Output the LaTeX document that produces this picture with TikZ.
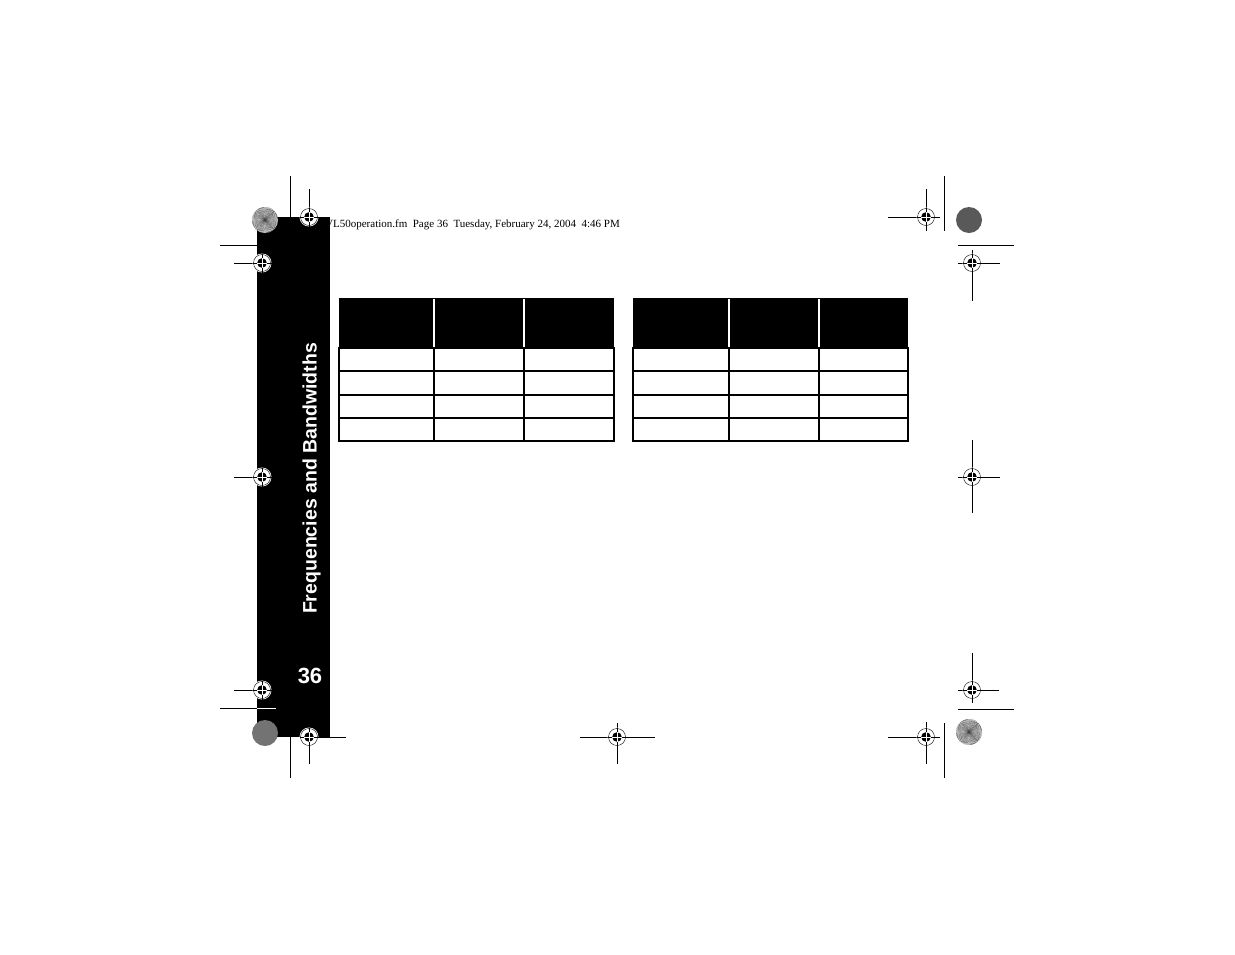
\documentclass[tikz,border=0pt]{standalone}
\usepackage{fontspec}
\setmainfont{Liberation Serif}
\setsansfont{Liberation Sans}

% registration mark: centre x, centre y
\newcommand{\regmark}[2]{%
	\fill[white] (#1,#2) circle (9.5pt);
	\draw[line width=0.4] (#1,#2) circle (8.5pt);
	\draw[line width=0.9] (#1-9.5,#2) -- (#1+9.5,#2) (#1,#2-9.5) -- (#1,#2+9.5);
	\fill (#1,#2) circle (4.8pt);
	\draw[white,line width=0.5] (#1-4.8,#2) -- (#1+4.8,#2) (#1,#2-4.8) -- (#1,#2+4.8);
}
% star target: centre x, centre y
\newcommand{\startarget}[2]{%
	\fill[white] (#1,#2) circle (13pt);
	\foreach \a in {0,5,...,355} \fill[black!75] (#1,#2) -- ++(\a:13pt) arc (\a:\a+2:13pt) -- cycle;
}

\begin{document}
\begin{tikzpicture}[x=1pt,y=-1pt]
					\useasboundingbox (0,0) rectangle (1235,954);
					\fill[white] (0,0) rectangle (1235,954);
					
					\node[anchor=base west,inner sep=0,font=\fontsize{11}{13}\selectfont] (header) at (325,227.5) {VL50operation.fm\ \ Page 36\ \ Tuesday, February 24, 2004\ \ 4:46 PM};
					
					\fill (257,217) rectangle (330,737);
					\node[rotate=90,text=white,font=\sffamily\bfseries\fontsize{19.5}{22}\selectfont] (sidetitle) at (311.5,478.5) {Frequencies and Bandwidths};
					\node[text=white,font=\sffamily\bfseries\fontsize{22}{24}\selectfont] (pagenum) at (310,676) {36};
					
					\fill (339,298) rectangle (614,348);
					\draw[white,line width=1.5] (434,299) -- (434,347);
					\draw[white,line width=1.5] (524,299) -- (524,347);
					\draw[line width=1.5] (339,348) rectangle (614,441);
					\draw[line width=1.5] (339,371) -- (614,371);
					\draw[line width=1.5] (339,395) -- (614,395);
					\draw[line width=1.5] (339,418) -- (614,418);
					\draw[line width=1.5] (434,348) -- (434,441);
					\draw[line width=1.5] (524,348) -- (524,441);
					
					\fill (633,298) rectangle (908,348);
					\draw[white,line width=1.5] (729,299) -- (729,347);
					\draw[white,line width=1.5] (819,299) -- (819,347);
					\draw[line width=1.5] (633,348) rectangle (908,441);
					\draw[line width=1.5] (633,371) -- (908,371);
					\draw[line width=1.5] (633,395) -- (908,395);
					\draw[line width=1.5] (633,418) -- (908,418);
					\draw[line width=1.5] (729,348) -- (729,441);
					\draw[line width=1.5] (819,348) -- (819,441);
					
					\draw[line width=0.9] (290,176) -- (290,217);
					\draw[line width=0.9] (220,245) -- (257,245);
					\draw[line width=0.9] (220,708) -- (257,708);
					\draw[white,line width=0.9] (257,708) -- (276,708);
					\draw[line width=0.9] (290,737) -- (290,778);
					\draw[line width=0.9] (944,176) -- (944,231);
					\draw[line width=0.9] (958,245) -- (1014,245);
					\draw[line width=0.9] (958,709) -- (1014,709);
					\draw[line width=0.9] (944,723) -- (944,778);
					
					\draw[line width=0.9] (309,189) -- (309,217);
					\draw[line width=0.9] (234,263) -- (262,263);
					\draw[line width=0.9] (234,477) -- (262,477);
					\draw[line width=0.9] (234,690) -- (262,690);
					\draw[line width=0.9] (309,737) -- (346,737) (309,737) -- (309,764);
					\draw[line width=0.9] (580,737) -- (655,737) (617,723) -- (617,764);
					\draw[line width=0.9] (888,737) -- (940,737) (926,722) -- (926,764);
					\draw[line width=0.9] (958,690) -- (999,690) (972,653) -- (972,703);
					\draw[line width=0.9] (958,477) -- (1000,477) (972,440) -- (972,513);
					\draw[line width=0.9] (958,263) -- (1000,263) (972,250) -- (972,301);
					\draw[line width=0.9] (888,217) -- (940,217) (926,189) -- (926,231);
					
					\regmark{309}{217}
					\regmark{262}{263}
					\regmark{262}{477}
					\regmark{262}{690}
					\regmark{309}{737}
					\regmark{617}{737}
					\regmark{926}{737}
					\regmark{972}{690}
					\regmark{972}{477}
					\regmark{972}{263}
					\regmark{926}{217}
					
					\startarget{265}{220}
					\fill[black!55] (265,733) circle (13pt);
					\fill[black!65] (969,220) circle (13pt);
					\startarget{969}{732}
				\end{tikzpicture}
\end{document}
